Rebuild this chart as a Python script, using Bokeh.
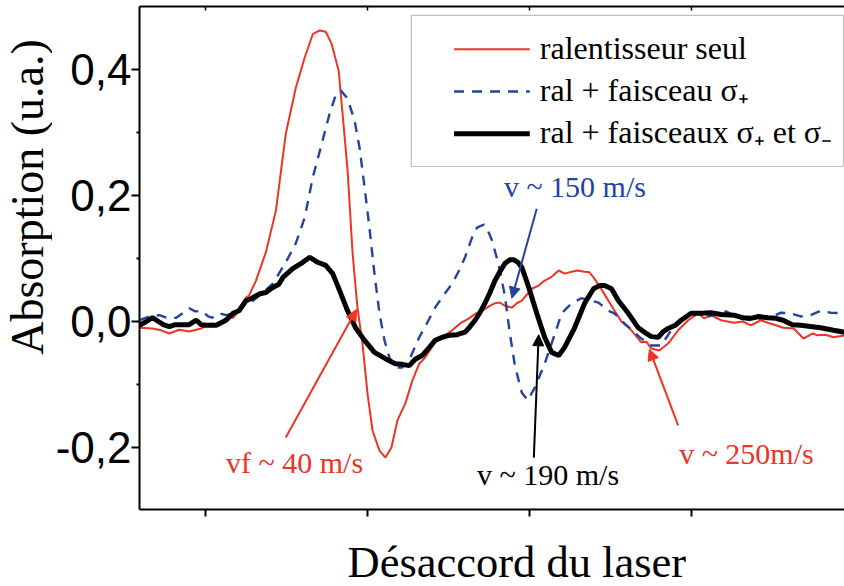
from bokeh.plotting import figure
from bokeh.layouts import row, column
from bokeh.models import (LinearAxis, FixedTicker, CustomJSTickFormatter, Label, Arrow,
                          NormalHead, BoxAnnotation, Range1d)
from bokeh.embed import file_html
from bokeh.resources import INLINE

# ---------------- data (detuning in arbitrary channel units, absorption in a.u.) -------------
x_red = [59.1, 67.1, 72.6, 77.5, 83.7, 89.8, 97.2, 104.0, 108.3, 112.6, 116.9, 120.6, 124.9, 126.8,
         131.1, 137.2, 143.4, 149.5, 155.7, 161.2, 166.2, 170.5, 174.2, 177.8, 182.2, 184.6, 187.7,
         190.8, 193.8, 196.9, 200.0, 203.1, 207.4, 211.1, 214.8, 218.5, 223.4, 227.7, 232.0, 235.7,
         241.8, 246.8, 252.3, 257.8, 262.8, 267.1, 270.8, 275.1, 278.8, 281.8, 284.9, 289.2, 292.3,
         295.4, 301.5, 305.8, 309.5, 313.8, 318.2, 321.8, 326.2, 329.8, 334.2, 337.2, 339.7, 344.6,
         350.8, 356.9, 363.1, 369.2, 372.3, 375.4, 380.3, 385.8, 392.0, 398.2, 404.3, 408.0, 412.3,
         418.5, 426.5, 432.0, 436.9, 443.1, 447.4, 452.3, 456.9, 463.4, 469.5, 475.1, 478.2, 483.1,
         488.0, 494.8]
y_red = [-0.010, -0.011, -0.014, -0.019, -0.013, -0.016, -0.011, -0.003, -0.006, 0.006, 0.006, 0.017,
         0.038, 0.041, 0.065, 0.110, 0.176, 0.298, 0.371, 0.419, 0.456, 0.462, 0.460, 0.441, 0.398,
         0.330, 0.240, 0.108, 0.022, -0.035, -0.114, -0.173, -0.205, -0.216, -0.200, -0.157, -0.130,
         -0.094, -0.067, -0.057, -0.033, -0.024, -0.014, -0.002, 0.005, 0.013, 0.017, 0.024, 0.029,
         0.030, 0.025, 0.022, 0.029, 0.033, 0.052, 0.057, 0.065, 0.071, 0.081, 0.076, 0.079, 0.081,
         0.079, 0.078, 0.070, 0.051, 0.025, 0.000, -0.014, -0.033, -0.032, -0.043, -0.046, -0.035,
         -0.014, 0.002, 0.013, 0.005, 0.010, 0.002, -0.002, 0.000, -0.006, 0.002, -0.002, -0.006,
         -0.010, -0.011, -0.027, -0.019, -0.022, -0.021, -0.025, -0.022]

x_blue = [59.1, 65.2, 71.4, 76.9, 81.8, 86.2, 89.8, 93.5, 97.8, 101.5, 104.0, 108.3, 112.6, 116.9,
          120.6, 124.9, 129.2, 135.4, 141.5, 149.5, 155.7, 161.2, 166.2, 171.1, 176.6, 180.3, 183.4,
          187.7, 192.0, 195.1, 198.2, 201.2, 204.3, 207.4, 210.5, 213.5, 217.2, 221.5, 226.5, 232.0,
          236.9, 241.8, 246.8, 252.3, 256.6, 260.3, 264.6, 267.7, 272.0, 274.5, 276.9, 281.2, 284.9,
          288.0, 291.1, 295.4, 299.1, 303.4, 309.5, 315.1, 320.0, 326.2, 332.3, 338.5, 342.8, 348.9,
          352.6, 358.8, 364.9, 369.2, 375.4, 381.5, 387.7, 395.7, 401.2, 406.2, 411.1, 416.6, 421.5,
          426.5, 432.0, 436.9, 443.1, 449.2, 455.4, 461.5, 467.7, 473.8, 480.0, 486.2, 494.8]
y_blue = [0.002, 0.008, 0.010, 0.005, 0.006, 0.014, 0.021, 0.016, 0.017, 0.008, 0.006, 0.013, 0.010,
          0.013, 0.017, 0.029, 0.033, 0.046, 0.060, 0.094, 0.124, 0.165, 0.229, 0.276, 0.330, 0.359,
          0.367, 0.354, 0.319, 0.276, 0.213, 0.149, 0.076, 0.013, -0.030, -0.057, -0.073, -0.073,
          -0.057, -0.025, -0.002, 0.022, 0.041, 0.060, 0.081, 0.102, 0.133, 0.149, 0.154, 0.144,
          0.129, 0.089, 0.041, -0.019, -0.070, -0.113, -0.125, -0.105, -0.067, -0.025, 0.013, 0.029,
          0.037, 0.033, 0.030, 0.017, 0.013, -0.003, -0.017, -0.027, -0.038, -0.038, -0.014, 0.005,
          0.013, 0.014, 0.008, 0.013, 0.016, 0.010, 0.005, 0.002, 0.005, 0.006, 0.014, 0.013, 0.008,
          0.010, 0.017, 0.014, 0.013]

x_black = [59.1, 63.4, 67.1, 70.8, 73.8, 77.5, 81.2, 85.5, 89.8, 94.2, 97.2, 100.3, 106.5, 109.5,
           112.6, 116.9, 120.6, 124.9, 128.6, 133.5, 137.2, 141.5, 145.2, 147.7, 153.8, 160.0, 164.3,
           169.2, 174.2, 178.5, 182.8, 187.7, 192.6, 198.2, 204.3, 211.1, 217.2, 221.5, 225.8, 229.5,
           233.8, 238.2, 241.8, 246.2, 250.5, 255.4, 260.3, 263.4, 266.5, 269.5, 272.6, 275.7, 278.8,
           281.8, 284.9, 288.0, 290.5, 292.9, 295.4, 299.7, 304.6, 309.5, 313.8, 318.2, 321.8, 328.0,
           334.2, 339.7, 343.4, 346.5, 350.8, 355.1, 361.2, 367.4, 372.3, 375.4, 379.7, 382.8, 385.8,
           390.2, 393.8, 400.0, 406.2, 412.3, 418.5, 426.5, 432.0, 436.9, 441.8, 447.4, 452.3, 456.9,
           462.5, 467.7, 473.8, 480.0, 488.0, 494.8]
y_black = [-0.006, 0.000, 0.006, 0.000, -0.005, -0.008, -0.005, -0.005, -0.005, 0.002, -0.005,
           -0.006, -0.006, -0.002, 0.002, 0.013, 0.017, 0.033, 0.037, 0.044, 0.046, 0.054, 0.059,
           0.070, 0.084, 0.094, 0.102, 0.094, 0.089, 0.076, 0.049, 0.017, -0.010, -0.030, -0.049,
           -0.059, -0.067, -0.068, -0.070, -0.060, -0.054, -0.041, -0.030, -0.025, -0.022, -0.021,
           -0.017, -0.008, 0.002, 0.014, 0.029, 0.046, 0.065, 0.079, 0.092, 0.098, 0.098, 0.094,
           0.086, 0.054, 0.013, -0.025, -0.049, -0.054, -0.041, -0.010, 0.029, 0.052, 0.057, 0.057,
           0.052, 0.033, 0.013, -0.010, -0.019, -0.024, -0.025, -0.016, -0.011, -0.006, 0.002, 0.013,
           0.013, 0.014, 0.011, 0.010, 0.006, 0.005, 0.008, 0.006, 0.005, 0.002, -0.005, -0.006,
           -0.008, -0.010, -0.014, -0.017]

x_ticks = [100, 200, 300, 400]
y_ticks = [-0.2, 0.0, 0.2, 0.4]
y_minor_ticks = [-0.1, 0.1, 0.3]

series_names = ["ralentisseur seul", "ral + faisceau σ₊", "ral + faisceaux  σ₊ et σ₋"]
annotations = ["vf ~ 40 m/s", "v ~ 150 m/s", "v ~ 190 m/s", "v ~ 250m/s"]
x_title = "Désaccord du laser"
y_title = "Absorption (u.a.)"

RED = "#ee3424"
BLUE = "#2443a0"
BLACK = "#000000"
SERIF = "Liberation Serif"
SANS = "Liberation Sans"
DASH = "10 8"


def text_strip(width, height):
    """A bare figure whose frame fills its whole canvas, used to hold an axis title."""
    f = figure(width=width, height=height, output_backend="svg", toolbar_location=None,
               x_range=Range1d(0, width), y_range=Range1d(0, height),
               x_axis_location=None, y_axis_location=None,
               min_border_left=0, min_border_right=0, min_border_top=0, min_border_bottom=0)
    f.grid.visible = False
    f.outline_line_color = None
    return f


# ---------------- main figure -------------
p = figure(width=792, height=530, output_backend="svg", toolbar_location=None,
           x_range=Range1d(59.1, 494.8), y_range=Range1d(-0.2984, 0.5),
           x_axis_location=None, y_axis_location=None,
           min_border_left=84, min_border_right=0, min_border_top=6, min_border_bottom=21)
p.grid.visible = False
p.outline_line_color = None
p.background_fill_color = "white"
p.border_fill_color = "white"

blank = CustomJSTickFormatter(code="return '';")

left = LinearAxis(ticker=FixedTicker(ticks=y_ticks, minor_ticks=y_minor_ticks))
left.formatter = CustomJSTickFormatter(code="return tick.toFixed(1).replace('.', ',');")
left.major_label_text_font = SANS
left.major_label_text_font_size = "44px"
left.major_label_text_color = "black"
left.major_label_standoff = 0
left.major_tick_out = 8
left.major_tick_in = 0
left.minor_tick_out = 3
left.minor_tick_in = 0
left.axis_line_width = 2
left.major_tick_line_width = 2
left.minor_tick_line_width = 2
p.add_layout(left, "left")

bottom = LinearAxis(ticker=FixedTicker(ticks=x_ticks, minor_ticks=[]), formatter=blank)
bottom.major_label_text_font_size = "1px"
bottom.major_label_standoff = 0
bottom.major_tick_out = 7
bottom.major_tick_in = 0
bottom.axis_line_width = 2
bottom.major_tick_line_width = 2
p.add_layout(bottom, "below")

top = LinearAxis(ticker=FixedTicker(ticks=x_ticks, minor_ticks=[]), formatter=blank)
top.major_label_text_font_size = "1px"
top.major_label_standoff = 0
top.major_tick_out = 0
top.major_tick_in = 4
top.axis_line_width = 2
top.major_tick_line_width = 1.5
p.add_layout(top, "above")

# ---------------- curves -------------
p.line(x_red, y_red, line_color=RED, line_width=2)
p.line(x_blue, y_blue, line_color=BLUE, line_width=2.4, line_dash=DASH)
p.line(x_black, y_black, line_color=BLACK, line_width=5)

# ---------------- legend (drawn) -------------
p.add_layout(BoxAnnotation(left=227.1, right=494.2, top=0.486, bottom=0.246,
                           fill_color=None, line_color="#333333", line_width=1.2))
p.segment(x0=[253.5], y0=[0.432], x1=[300.3], y1=[0.432], line_color=RED, line_width=2)
p.segment(x0=[253.5], y0=[0.365], x1=[300.3], y1=[0.365], line_color=BLUE, line_width=2.4,
          line_dash=DASH)
p.segment(x0=[253.5], y0=[0.298], x1=[300.3], y1=[0.298], line_color=BLACK, line_width=5)
for name, ym in zip(series_names, [0.434, 0.3675, 0.301]):
    p.add_layout(Label(x=306.5, y=ym, text=name, text_font=SERIF, text_font_size="32px",
                       text_color="black", text_align="left", text_baseline="middle"))


# ---------------- annotations -------------
def note(text, color, tx, ty, x0, y0, x1, y1):
    p.add_layout(Label(x=tx, y=ty, text=text, text_font=SERIF, text_font_size="30px",
                       text_color=color, text_align="left", text_baseline="middle"))
    p.add_layout(Arrow(end=NormalHead(size=11, fill_color=color, line_color=color, line_width=1),
                       x_start=x0, y_start=y0, x_end=x1, y_end=y1,
                       line_color=color, line_width=2))


note(annotations[0], RED, 112.6, -0.2238, 149.5, -0.184, 193.2, 0.019)
note(annotations[1], BLUE, 284.3, 0.2143, 304.6, 0.179, 289.2, 0.037)
note(annotations[2], BLACK, 267.7, -0.2429, 302.8, -0.216, 305.8, -0.021)
note(annotations[3], RED, 392.6, -0.2095, 392.0, -0.165, 374.2, -0.044)

# ---------------- axis titles (in their own strips) -------------
ystrip = text_strip(52, 530)
ystrip.add_layout(Label(x=26.5, y=163, text=y_title, text_font=SERIF, text_font_size="46px",
                        text_color="black", text_align="left", text_baseline="middle",
                        angle=1.5707963267948966))
xstrip = text_strip(844, 56)
xstrip.add_layout(Label(x=347, y=25, text=x_title, text_font=SERIF, text_font_size="44.5px",
                        text_color="black", text_align="left", text_baseline="middle"))

layout = column(row(ystrip, p), xstrip)
open("out.html", "w").write(file_html(layout, INLINE))
